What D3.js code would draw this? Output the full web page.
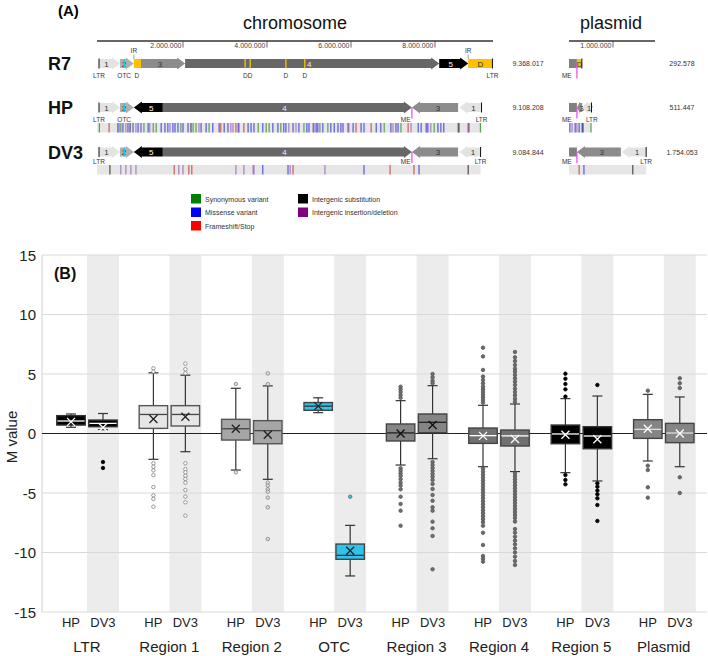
<!DOCTYPE html>
<html><head><meta charset="utf-8">
<script src="https://cdn.jsdelivr.net/npm/d3@7"></script>
<style>body{margin:0;background:#fff}svg{display:block;font-family:"Liberation Sans",Arial,sans-serif}</style>
</head><body><svg id="c" width="708" height="656"></svg>
<script>
// ---------------- Panel A data ----------------
const genomes = ["R7", "HP", "DV3"];
const chromSizes = [9368017, 9108208, 9084844];
const chromSizeLabels = ["9.368.017", "9.108.208", "9.084.844"];
const plasmidSizes = [292578, 511447, 1754053];
const plasmidSizeLabels = ["292.578", "511.447", "1.754.053"];
const chromTicks = [2e6, 4e6, 6e6, 8e6];
const chromTickLabels = ["2.000.000", "4.000.000", "6.000.000", "8.000.000"];
const plasmidTicks = [1e6];
const plasmidTickLabels = ["1.000.000"];
// segments: [start, end, kind, direction, label]
const chromR7 = [[0,0.5e6,"s1",1,"1"],[0.5e6,0.83e6,"s2",1,"2"],[0.83e6,1.0e6,"D",0,""],[1.0e6,2.05e6,"s3",1,"3"],[2.05e6,8.1e6,"s4",1,"4"],[8.1e6,8.79e6,"s5",1,"5"],[8.79e6,9368017,"D",0,"D"]];
const chromHP = [[0,0.5e6,"s1",1,"1"],[0.5e6,0.83e6,"s2",1,"2"],[0.83e6,1.52e6,"s5",-1,"5"],[1.52e6,7.45e6,"s4",1,"4"],[7.45e6,8.55e6,"s3",-1,"3"],[8.58e6,9108208,"s1",-1,"1"]];
const chromDV3 = [[0,0.5e6,"s1",1,"1"],[0.5e6,0.83e6,"s2",1,"2"],[0.83e6,1.52e6,"s5",-1,"5"],[1.52e6,7.45e6,"s4",1,"4"],[7.45e6,8.55e6,"s3",-1,"3"],[8.58e6,9084844,"s1",-1,"1"]];
const plasR7 = [[0,0.18e6,"pl",0,""],[0.18e6,292578,"D",0,"D"]];
const plasHP = [[0,0.18e6,"pl",0,""],[0.18e6,0.3e6,"s3",-1,"3'"],[0.3e6,511447,"s1",-1,"1'"]];
const plasDV3 = [[0,0.18e6,"pl",0,""],[0.18e6,1.18e6,"s3",-1,"3"],[1.2e6,1754053,"s1",-1,"1"]];
const otcPos = 0.6e6;
const r7Deletions = [3.48e6, 3.6e6, 4.45e6, 4.9e6];
const irPos = [0.83e6, 8.79e6];
const mePosChrom = 7.45e6;
const mePosPlasmid = 0.18e6;
// labels below tracks: [position, text]
const chromLabelsR7 = [[0,"LTR"],[0.6e6,"OTC"],[0.9e6,"D"],[3.54e6,"DD"],[4.45e6,"D"],[4.9e6,"D"],[9.368e6,"LTR"]];
const chromLabelsHP = [[0,"LTR"],[0.6e6,"OTC"],[7.3e6,"ME"],[9.108e6,"LTR"]];
const chromLabelsDV3 = [[0,"LTR"],[7.3e6,"ME"],[9.085e6,"LTR"]];
const plasLabelsR7 = [[-0.05e6,"ME"]];
const plasLabelsHP = [[-0.05e6,"ME"],[0.52e6,"LTR"]];
const plasLabelsDV3 = [[-0.05e6,"ME"],[1.754e6,"LTR"]];
// variants: [Mb, type]
const varHP = [[0.01,"g"],[0.24,"r"],[0.45,"b"],[0.48,"p"],[0.52,"g"],[0.57,"b"],[0.64,"p"],[0.69,"b"],[0.74,"k"],[0.81,"b"],[0.88,"p"],[0.93,"b"],[1.00,"b"],[1.07,"g"],[1.17,"b"],[1.21,"p"],[1.29,"g"],[1.36,"g"],[1.48,"b"],[1.57,"b"],[1.64,"b"],[1.69,"p"],[1.76,"b"],[1.81,"b"],[1.88,"b"],[1.95,"g"],[2.00,"b"],[2.12,"b"],[2.19,"k"],[2.24,"g"],[2.31,"g"],[2.38,"p"],[2.43,"b"],[2.55,"b"],[2.62,"g"],[2.71,"b"],[2.86,"b"],[2.90,"r"],[2.98,"b"],[3.07,"b"],[3.14,"p"],[3.19,"p"],[3.26,"r"],[3.31,"p"],[3.33,"b"],[3.45,"r"],[3.55,"b"],[3.62,"b"],[3.69,"b"],[3.79,"g"],[3.90,"b"],[3.98,"g"],[4.05,"g"],[4.14,"b"],[4.26,"b"],[4.33,"g"],[4.40,"b"],[4.45,"b"],[4.52,"p"],[4.62,"b"],[4.69,"p"],[4.76,"b"],[4.88,"g"],[4.95,"b"],[5.00,"b"],[5.10,"b"],[5.12,"p"],[5.17,"b"],[5.21,"b"],[5.26,"g"],[5.33,"b"],[5.45,"g"],[5.52,"b"],[5.60,"b"],[5.69,"b"],[5.76,"b"],[5.81,"b"],[5.93,"b"],[5.95,"p"],[6.05,"b"],[6.12,"r"],[6.24,"b"],[6.31,"b"],[6.48,"r"],[6.60,"b"],[6.71,"b"],[6.79,"g"],[6.95,"b"],[7.00,"p"],[7.07,"b"],[7.12,"b"],[7.19,"g"],[7.36,"r"],[7.43,"p"],[7.60,"b"],[7.67,"b"],[7.79,"b"],[7.83,"b"],[7.90,"p"],[7.98,"g"],[8.07,"b"],[8.14,"b"],[8.21,"b"],[8.55,"g"],[8.57,"k"],[8.79,"b"],[8.81,"r"],[9.08,"g"]];
const varDV3 = [[0.26,"k"],[0.52,"p"],[0.64,"p"],[0.76,"p"],[0.88,"p"],[1.79,"r"],[1.90,"p"],[2.00,"p"],[2.14,"r"],[2.21,"r"],[3.26,"p"],[3.45,"p"],[3.67,"p"],[3.69,"p"],[3.90,"b"],[4.50,"b"],[4.55,"p"],[4.62,"r"],[5.38,"p"],[6.31,"b"],[6.93,"r"],[7.50,"r"],[7.62,"b"],[8.79,"k"]];
const varPlasHP = [[0.02,"b"],[0.07,"p"],[0.14,"b"],[0.18,"p"],[0.23,"b"],[0.30,"k"],[0.32,"b"],[0.50,"g"]];
const varPlasDV3 = [[0.23,"r"],[0.34,"b"],[1.45,"k"]];
const legendLabels = ["Synonymous variant","Missense variant","Frameshift/Stop","Intergenic substitution","Intergenic insertion/deletion"];
const legendKeys = ["g","b","r","k","p"];

// ---------------- Panel B data ----------------
const groups = ["LTR","Region 1","Region 2","OTC","Region 3","Region 4","Region 5","Plasmid"];
const strains = ["HP","DV3"];
const lowWhisker = [[0.52,0.32],[-2.17,-1.53],[-3.07,-3.85],[1.75,-11.97],[-2.65,-2.12],[-2.79,-3.2],[-3.29,-3.99],[-2.31,-2.79]];
const q1 = [[0.71,0.57],[0.43,0.63],[-0.55,-0.86],[1.95,-10.57],[-0.63,0.07],[-0.83,-1.05],[-0.86,-1.28],[-0.41,-0.77]];
const median = [[1.05,0.85],[1.6,1.6],[0.4,0.24],[2.3,-10.24],[0.05,0.94],[-0.18,-0.2],[-0.04,-0.21],[0.35,0.04]];
const q3 = [[1.5,1.13],[2.34,2.34],[1.19,1.08],[2.6,-9.29],[0.8,1.64],[0.46,0.29],[0.71,0.57],[1.16,0.85]];
const highWhisker = [[1.64,1.68],[5.1,4.9],[3.8,4.0],[3.0,-7.72],[2.76,4.02],[2.37,2.48],[2.93,3.15],[3.29,3.07]];
const meanValue = [[0.98,0.5],[1.22,1.41],[0.4,-0.1],[2.3,-9.85],[0.0,0.71],[-0.2,-0.46],[-0.1,-0.49],[0.4,0.0]];
const outliers = [
  [[],[-2.4,-2.9]],
  [[5.48,5.2,-2.5,-2.8,-3.1,-3.5,-4.5,-5.2,-5.5,-6.15],[5.87,5.4,5.06,-2.5,-3.0,-3.26,-3.55,-3.82,-4.13,-4.75,-5.3,-5.78,-6.9]],
  [[4.16,-3.26],[5.05,4.15,-4.13,-4.38,-4.69,-4.89,-5.39,-6.2,-8.87]],
  [[],[-5.31]],
  [[3.93,3.71,3.49,3.24,3.0,-2.92,-3.12,-3.35,-3.57,-3.85,-4.13,-4.38,-4.69,-5.31,-5.92,-6.49,-7.75],[5.0,4.72,4.44,4.22,-2.4,-2.65,-2.9,-3.15,-3.4,-3.63,-3.9,-4.24,-4.66,-5.17,-5.65,-6.2,-6.49,-7.41,-7.97,-8.61,-11.41]],
  [[7.21,6.48,5.34,4.78,4.5,4.22,3.94,3.71,3.49,3.26,3.04,2.82,2.59,-2.95,-3.2,-3.45,-3.7,-3.95,-4.2,-4.45,-4.7,-4.95,-5.2,-5.45,-5.7,-5.95,-6.2,-6.45,-6.7,-6.95,-7.2,-7.45,-7.75,-8.34,-9.37,-10.29,-10.52,-10.77],[6.85,6.4,6.09,5.76,5.45,5.2,4.92,4.64,4.36,4.08,3.77,3.49,3.21,2.93,2.67,-3.35,-3.6,-3.85,-4.1,-4.35,-4.6,-4.85,-5.1,-5.35,-5.6,-5.85,-6.1,-6.35,-6.6,-6.85,-7.1,-7.4,-8.03,-8.33,-8.67,-9.0,-9.31,-9.65,-9.99,-10.35,-10.71,-11.05]],
  [[5.03,4.6,4.16,3.71,3.1,-3.49,-3.9,-4.27],[4.08,-4.19,-4.47,-4.8,-5.11,-5.45,-6.01,-7.35]],
  [[3.6,-2.7,-3.07,-4.52,-5.39],[4.64,4.22,3.82,-3.68,-5.0]]
];
const yTicks = [-15,-10,-5,0,5,10,15];

// ---------------- styles ----------------
const segFill = {s1:"#e3e3e3",s2:"#b0b0b0",s3:"#8c8c8c",s4:"#676767",s5:"#000",D:"#ffc000",pl:"#808080"};
const segText = {s1:"#333",s2:"#333",s3:"#333",s4:"#eee",s5:"#fff",D:"#333",pl:"#fff"};
const varColor = {g:"#2f8f2f",b:"#3030e0",r:"#d03030",p:"#9860b8",k:"#222"};
const legendColor = {g:"#008000",b:"#0000ff",r:"#ff0000",k:"#000000",p:"#800080"};
const boxStyle = [
  {fill:"#000",stroke:"#333",med:"#fff",mean:"#fff",of:"#000",os:"#000"},
  {fill:"#e6e6e6",stroke:"#555",med:"#444",mean:"#222",of:"#fff",os:"#808080"},
  {fill:"#a6a6a6",stroke:"#555",med:"#444",mean:"#222",of:"#e0e0e0",os:"#808080"},
  {fill:"#2dc3ee",stroke:"#444",med:"#333",mean:"#222",of:"#2dc3ee",os:"#666"},
  {fill:"#858585",stroke:"#444",med:"#222",mean:"#111",of:"#707070",os:"#555"},
  {fill:"#707070",stroke:"#444",med:"#fff",mean:"#fff",of:"#6a6a6a",os:"#555"},
  {fill:"#000",stroke:"#333",med:"#fff",mean:"#fff",of:"#000",os:"#000"},
  {fill:"#858585",stroke:"#444",med:"#ddd",mean:"#fff",of:"#6a6a6a",os:"#555"}
];

const svg = d3.select("#c");
svg.append("rect").attr("width",708).attr("height",656).attr("fill","#fff");

// ================= Panel A =================
const A = svg.append("g");
const xC = d3.scaleLinear().domain([0,1e7]).range([99,519]);
const xP = d3.scaleLinear().domain([0,1e6]).range([569,613]);
const rowY = [63.5,107.5,152];
const labY = [78,121.5,163.5];
const varY = [null,123,165];
const chromSegs = [chromR7,chromHP,chromDV3];
const plasSegs = [plasR7,plasHP,plasDV3];
const chromLabs = [chromLabelsR7,chromLabelsHP,chromLabelsDV3];
const plasLabs = [plasLabelsR7,plasLabelsHP,plasLabelsDV3];
const chromVars = [null,varHP,varDV3];
const plasVars = [null,varPlasHP,varPlasDV3];

A.append("text").attr("x",58).attr("y",16).attr("font-weight","bold").attr("font-size",15).text("(A)");
A.append("text").attr("x",295).attr("y",29).attr("text-anchor","middle").attr("font-size",18).attr("fill","#111").text("chromosome");
A.append("text").attr("x",611).attr("y",29).attr("text-anchor","middle").attr("font-size",18).attr("fill","#111").text("plasmid");

function scaleBar(x, x0, x1, ticks, labels){
  A.append("line").attr("x1",x0).attr("x2",x1).attr("y1",41).attr("y2",41).attr("stroke","#333").attr("stroke-width",1.5);
  ticks.forEach((t,i)=>{
    A.append("line").attr("x1",x(t)).attr("x2",x(t)).attr("y1",41).attr("y2",47.5).attr("stroke","#444").attr("stroke-width",0.8);
    A.append("text").attr("x",x(t)-1.5).attr("y",47.5).attr("text-anchor","end").attr("font-size",7).attr("fill","#444").text(labels[i]);
  });
}
scaleBar(xC, 97, 493, chromTicks, chromTickLabels);
scaleBar(xP, 569, 655, plasmidTicks, plasmidTickLabels);

function arrowPts(x0,x1,cy,dir){
  const bh=4.5, hh=6;
  if(dir===0) return [[x0,cy-bh],[x1,cy-bh],[x1,cy+bh],[x0,cy+bh]];
  const h=Math.min(8,(x1-x0)*0.6);
  if(dir===1) return [[x0,cy-bh],[x1-h,cy-bh],[x1-h,cy-hh],[x1,cy],[x1-h,cy+hh],[x1-h,cy+bh],[x0,cy+bh]];
  return [[x1,cy-bh],[x0+h,cy-bh],[x0+h,cy-hh],[x0,cy],[x0+h,cy+hh],[x0+h,cy+bh],[x1,cy+bh]];
}
function drawTrack(x, segs, cy, small){
  segs.forEach(s=>{
    const x0=x(s[0]), x1=x(s[1]);
    A.append("polygon").attr("points",arrowPts(x0,x1,cy,s[3]).map(p=>p.join(",")).join(" ")).attr("fill",segFill[s[2]]);
    if(s[4]){
      let lx=(x0+x1)/2;
      if(s[3]===1) lx=(x0+x1-6)/2; if(s[3]===-1) lx=(x0+x1+6)/2;
      A.append("text").attr("x",lx).attr("y",cy+3).attr("text-anchor","middle").attr("font-size",small?7.5:8).attr("fill",segText[s[2]]).text(s[4]);
    }
  });
}
function label(x, pos, y, t){
  A.append("text").attr("x",x(pos)).attr("y",y).attr("text-anchor","middle").attr("font-size",6.5).attr("fill","#333").text(t);
}
function endTick(xp, cy){
  A.append("line").attr("x1",xp).attr("x2",xp).attr("y1",cy-5).attr("y2",cy+5).attr("stroke","#111").attr("stroke-width",1);
}

genomes.forEach((g,i)=>{
  const cy=rowY[i];
  A.append("text").attr("x",48).attr("y",cy+6.5).attr("font-weight","bold").attr("font-size",18).attr("fill","#111").text(g);
  drawTrack(xC, chromSegs[i], cy, false);
  A.append("line").attr("x1",xC(otcPos)).attr("x2",xC(otcPos)).attr("y1",cy-4.5).attr("y2",cy+4.5).attr("stroke","#1ec8f0").attr("stroke-width",1.5);
  endTick(xC(0), cy); endTick(xC(chromSizes[i]), cy);
  if(i===0){
    r7Deletions.forEach(p=>A.append("line").attr("x1",xC(p)).attr("x2",xC(p)).attr("y1",cy-4.5).attr("y2",cy+4.5).attr("stroke","#ffc000").attr("stroke-width",1.3));
    irPos.forEach(p=>{
      A.append("line").attr("x1",xC(p)).attr("x2",xC(p)).attr("y1",cy-9).attr("y2",cy-4.5).attr("stroke","#888").attr("stroke-width",0.8);
      A.append("text").attr("x",xC(p)).attr("y",cy-10.5).attr("text-anchor","middle").attr("font-size",6.5).attr("fill","#333").text("IR");
    });
  } else {
    A.append("line").attr("x1",xC(mePosChrom)).attr("x2",xC(mePosChrom)).attr("y1",cy).attr("y2",cy+11).attr("stroke","#ee44ee").attr("stroke-width",1.2);
  }
  chromLabs[i].forEach(l=>label(xC,l[0],labY[i],l[1]));
  A.append("text").attr("x",528).attr("y",cy+2.5).attr("text-anchor","middle").attr("font-size",7).attr("fill","#333").text(chromSizeLabels[i]);
  drawTrack(xP, plasSegs[i], cy, true);
  endTick(xP(plasmidSizes[i]), cy);
  A.append("line").attr("x1",xP(mePosPlasmid)).attr("x2",xP(mePosPlasmid)).attr("y1",cy).attr("y2",cy+(i===0?15:11)).attr("stroke","#ee44ee").attr("stroke-width",1.2);
  plasLabs[i].forEach(l=>label(xP,l[0],labY[i],l[1]));
  A.append("text").attr("x",682).attr("y",cy+2.5).attr("text-anchor","middle").attr("font-size",7).attr("fill","#333").text(plasmidSizeLabels[i]);
  if(chromVars[i]){
    const vy=varY[i];
    A.append("rect").attr("x",xC(0)-2).attr("y",vy).attr("width",xC(chromSizes[i])-xC(0)+2).attr("height",9.5).attr("fill","#e6e6e6");
    chromVars[i].forEach(v=>A.append("line").attr("x1",xC(v[0]*1e6)).attr("x2",xC(v[0]*1e6)).attr("y1",vy).attr("y2",vy+9.5).attr("stroke",varColor[v[1]]).attr("stroke-width",1.1).attr("opacity",0.85));
    A.append("rect").attr("x",xP(0)).attr("y",vy).attr("width",xP(plasmidSizes[i])-xP(0)).attr("height",9.5).attr("fill","#e6e6e6");
    plasVars[i].forEach(v=>A.append("line").attr("x1",xP(v[0]*1e6)).attr("x2",xP(v[0]*1e6)).attr("y1",vy).attr("y2",vy+9.5).attr("stroke",varColor[v[1]]).attr("stroke-width",1.1).attr("opacity",0.85));
  }
});

const legPos = [[191,194],[191,207.5],[191,221],[298,194],[298,207.5]];
legendLabels.forEach((l,i)=>{
  A.append("rect").attr("x",legPos[i][0]).attr("y",legPos[i][1]).attr("width",10).attr("height",9.5).attr("fill",legendColor[legendKeys[i]]);
  A.append("text").attr("x",legPos[i][0]+14).attr("y",legPos[i][1]+7.5).attr("font-size",7).attr("fill","#333").text(l);
});

// ================= Panel B =================
const B = svg.append("g");
const y = d3.scaleLinear().domain([-15,15]).range([612,255]);
const gx = d3.scaleBand().domain(groups).range([42,42+82.4*8]);
const sx = d3.scaleBand().domain(strains).range([gx.bandwidth()*0.158, gx.bandwidth()*0.934]);
const plotL=42, plotR=707;

groups.forEach(g=>{
  B.append("rect").attr("x",gx(g)+sx("DV3")).attr("y",y(15)).attr("width",sx.bandwidth()).attr("height",y(-15)-y(15)).attr("fill","#ececec");
});
yTicks.filter(t=>t!==0).forEach(t=>{
  B.append("line").attr("x1",plotL).attr("x2",plotR).attr("y1",y(t)).attr("y2",y(t)).attr("stroke","#d9d9d9").attr("stroke-width",1.2);
});
B.append("line").attr("x1",plotL).attr("x2",plotL).attr("y1",y(15)).attr("y2",y(-15)).attr("stroke","#d9d9d9").attr("stroke-width",1.2);
B.append("line").attr("x1",plotL).attr("x2",plotR).attr("y1",y(0)).attr("y2",y(0)).attr("stroke","#222").attr("stroke-width",1.2);

const yAxis = B.append("g").attr("transform",`translate(${plotL},0)`)
  .call(d3.axisLeft(y).tickValues(yTicks).tickSize(0).tickPadding(6).tickFormat(d=>String(d)));
yAxis.select(".domain").remove();
yAxis.selectAll("text").attr("font-size",15).attr("fill","#222").attr("font-family","Liberation Sans, Arial, sans-serif").attr("dy","0.35em");

B.append("text").attr("transform","translate(17,437) rotate(-90)").attr("text-anchor","middle").attr("font-size",15).attr("fill","#222").text("M value");
B.append("text").attr("x",54).attr("y",279).attr("font-weight","bold").attr("font-size",16).attr("fill","#111").text("(B)");

const boxW = sx.bandwidth()*0.89, capW = 10;
groups.forEach((g,gi)=>{
  const st = boxStyle[gi];
  strains.forEach((s,si)=>{
    const cx = gx(g)+sx(s)+sx.bandwidth()/2;
    const G = B.append("g");
    G.append("line").attr("x1",cx).attr("x2",cx).attr("y1",y(q3[gi][si])).attr("y2",y(highWhisker[gi][si])).attr("stroke","#333").attr("stroke-width",1.2);
    G.append("line").attr("x1",cx).attr("x2",cx).attr("y1",y(q1[gi][si])).attr("y2",y(lowWhisker[gi][si])).attr("stroke","#333").attr("stroke-width",1.2);
    [highWhisker[gi][si],lowWhisker[gi][si]].forEach(v=>G.append("line").attr("x1",cx-capW/2).attr("x2",cx+capW/2).attr("y1",y(v)).attr("y2",y(v)).attr("stroke","#333").attr("stroke-width",1.2));
    G.append("rect").attr("x",cx-boxW/2).attr("y",y(q3[gi][si])).attr("width",boxW).attr("height",y(q1[gi][si])-y(q3[gi][si]))
      .attr("fill",st.fill).attr("stroke",st.stroke).attr("stroke-width",1.4);
    G.append("line").attr("x1",cx-boxW/2+0.7).attr("x2",cx+boxW/2-0.7).attr("y1",y(median[gi][si])).attr("y2",y(median[gi][si])).attr("stroke",st.med).attr("stroke-width",1.3);
    const my=y(meanValue[gi][si]), r=4;
    G.append("path").attr("d",`M${cx-r},${my-r}L${cx+r},${my+r}M${cx-r},${my+r}L${cx+r},${my-r}`).attr("stroke",st.mean).attr("stroke-width",1.3).attr("fill","none");
    outliers[gi][si].forEach(v=>G.append("circle").attr("cx",cx).attr("cy",y(v)).attr("r",1.75).attr("fill",st.of).attr("stroke",st.os).attr("stroke-width",0.8));
    B.append("text").attr("x",cx).attr("y",627).attr("text-anchor","middle").attr("font-size",13).attr("fill","#222").text(s);
  });
  B.append("text").attr("x",gx(g)+sx.range()[0]+sx.bandwidth()).attr("y",652).attr("text-anchor","middle").attr("font-size",15).attr("fill","#222").text(g);
});
</script></body></html>
